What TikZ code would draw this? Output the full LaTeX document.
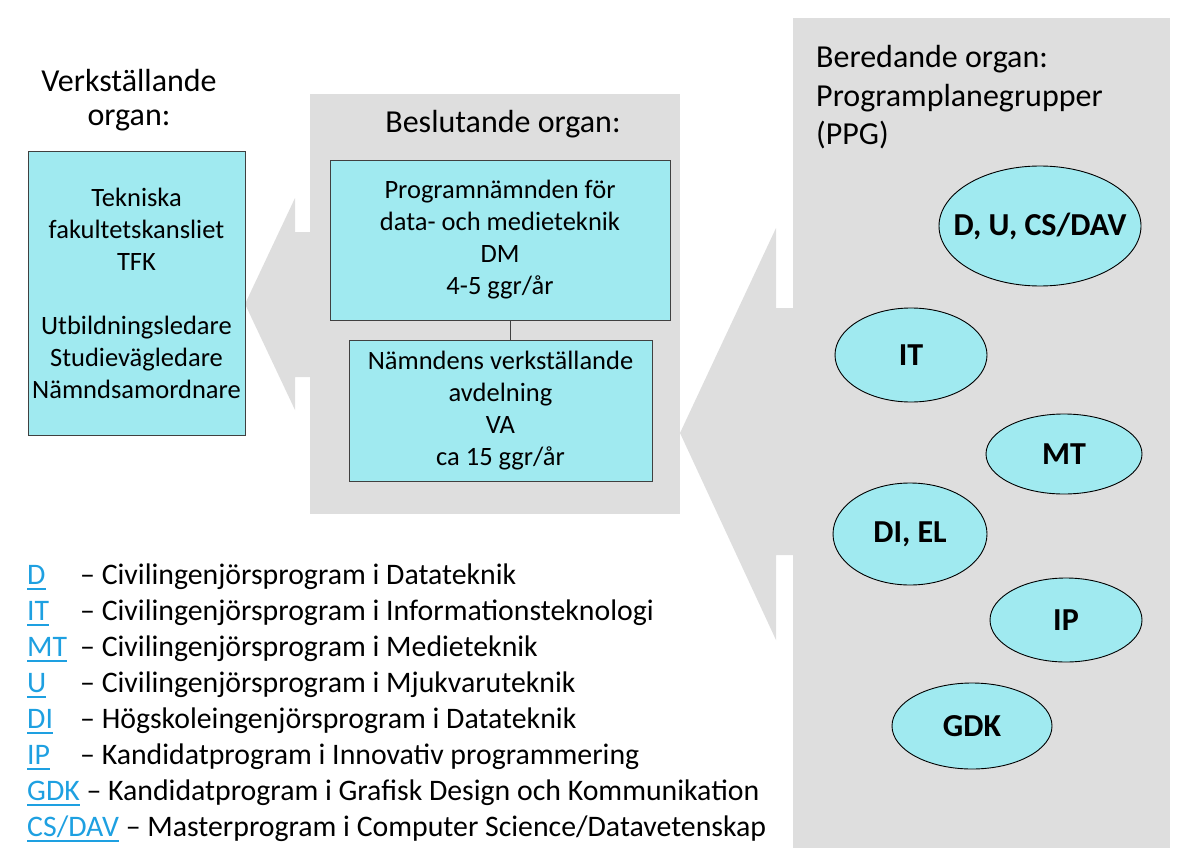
\documentclass[tikz,border=0pt]{standalone}
\usepackage{fontspec}
\setmainfont{Carlito}
\usetikzlibrary{shapes.geometric}
\definecolor{panelgray}{RGB}{222,222,222}
\definecolor{boxcyan}{RGB}{160,234,240}
\definecolor{linkblue}{RGB}{30,160,225}
\newcommand\prog[1]{\textcolor{linkblue}{\sbox0{#1}\rlap{\rule[-6pt]{\wd0}{2.4pt}}\usebox0}}
\newcommand\padprog[1]{\makebox[53pt][l]{\prog{#1}}}
\newcommand\zw[1]{\makebox[0pt]{#1}}

\begin{document}
\begin{tikzpicture}[x=1pt, y=-1pt,
    organ/.style={draw=black!75, line width=0.9pt, fill=boxcyan, align=center,
        inner sep=0pt, font=\fontsize{26.5}{32}\selectfont},
    ppg/.style={ellipse, draw=black, line width=0.9pt, fill=boxcyan, inner sep=0pt,
        font=\fontsize{32}{38}\selectfont\bfseries},
    head/.style={inner sep=0pt, font=\fontsize{32}{34}\selectfont},
    legend/.style={anchor=base west, inner sep=0pt, font=\fontsize{29.8}{36}\selectfont}]
    \useasboundingbox (0,0) rectangle (1183,864);
    % panels and the two big arrows
    \fill[panelgray] (310,94) rectangle (680,514);
    \fill[panelgray] (793,18) rectangle (1170,848);
    \fill[panelgray] (312,232) -- (295,232) -- (295,198) -- (245,304)
        -- (295,410) -- (295,377) -- (312,377) -- cycle;
    \fill[panelgray] (795,308) -- (776,308) -- (776,228) -- (680,433)
        -- (776,640) -- (776,555) -- (795,555) -- cycle;
    % headings
    \node[head, anchor=base] (verkhead) at (129,92) {Verkställande};
    \node[head, anchor=base] (verkhead2) at (129,126) {organ:};
    \node[head, anchor=base] (beshead) at (503,132) {Beslutande organ:};
    \node[head, anchor=base west] (berhead) at (816,68) {Beredande organ:};
    \node[head, anchor=base west] (berhead2) at (816,107) {Programplanegrupper};
    \node[head, anchor=base west] (berhead3) at (816,144) {(PPG)};
    % boxes
    \node[organ, minimum width=217pt, minimum height=284pt] (tfk) at (136.5,293)
        {Tekniska\\fakultetskansliet\\TFK\\[32pt]Utbildningsledare\\Studievägledare\\Nämndsamordnare};
    \node[organ, minimum width=340pt, minimum height=160pt] (dm) at (500,240)
        {Programnämnden för\\data- och medieteknik\\DM\\4-5 ggr/år};
    \node[organ, minimum width=303pt, minimum height=141pt] (va) at (500.5,410.5)
        {Nämndens verkställande\\avdelning\\VA\\ca 15 ggr/år};
    \draw[black!75, line width=0.9pt] ([xshift=10pt]dm.south) -- ([xshift=10pt]dm.south |- va.north);
    % programplanegrupper
    \node[ppg, minimum width=202pt, minimum height=120pt] (dcs) at (1040,226) {\zw{D, U, CS/DAV}};
    \node[ppg, minimum width=152pt, minimum height=94pt] (it) at (911,355) {\zw{IT}};
    \node[ppg, minimum width=156pt, minimum height=80pt] (mt) at (1064,454) {\zw{MT}};
    \node[ppg, minimum width=154pt, minimum height=102pt] (diel) at (910,534) {\zw{DI, EL}};
    \node[ppg, minimum width=152pt, minimum height=84pt] (ip) at (1066,620) {\zw{IP}};
    \node[ppg, minimum width=160pt, minimum height=86pt] (gdk) at (972,726) {\zw{GDK}};
    % legend
    \node[legend] (legd) at (27,584) {\padprog{D}– Civilingenjörsprogram i Datateknik};
    \node[legend] (legit) at (27,620) {\padprog{IT}– Civilingenjörsprogram i Informationsteknologi};
    \node[legend] (legmt) at (27,656) {\padprog{MT}– Civilingenjörsprogram i Medieteknik};
    \node[legend] (legu) at (27,692) {\padprog{U}– Civilingenjörsprogram i Mjukvaruteknik};
    \node[legend] (legdi) at (27,728) {\padprog{DI}– Högskoleingenjörsprogram i Datateknik};
    \node[legend] (legip) at (27,764) {\padprog{IP}– Kandidatprogram i Innovativ programmering};
    \node[legend] (leggdk) at (27,800) {\prog{GDK} – Kandidatprogram i Grafisk Design och Kommunikation};
    \node[legend] (legcs) at (27,836) {\prog{CS/DAV} – Masterprogram i Computer Science/Datavetenskap};
\end{tikzpicture}
\end{document}
